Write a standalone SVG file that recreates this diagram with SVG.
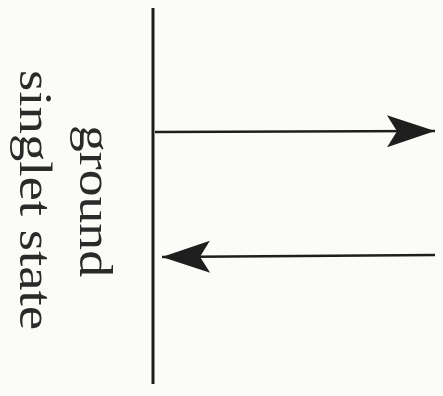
<svg xmlns="http://www.w3.org/2000/svg" width="443" height="396" viewBox="0 0 443 396">
  <style>
    .ink { stroke: #1e1e1e; fill: none; stroke-linecap: butt; }
    .lbl { font-family: "Liberation Serif", "Times New Roman", serif; font-size: 47px; fill: #2a2a2a; text-anchor: middle; }
  </style>
  <defs>
    <marker id="head" viewBox="-50 -18 52 36" markerWidth="52" markerHeight="36" refX="0" refY="0" orient="auto" markerUnits="userSpaceOnUse">
      <path d="M0,0 L-48,-16 L-38,0 L-48,16 Z" fill="#1e1e1e"/>
    </marker>
  </defs>
  <rect x="0" y="0" width="443" height="396" fill="#fbfbf8"/>
  <g id="level">
    <line class="ink" x1="153" y1="8" x2="153" y2="384" stroke-width="3"/>
  </g>
  <g id="label">
    <text class="lbl" transform="translate(80,201) rotate(90)" textLength="152" lengthAdjust="spacingAndGlyphs">ground</text>
    <text class="lbl" transform="translate(20,200) rotate(90)" textLength="260" lengthAdjust="spacingAndGlyphs">singlet state</text>
  </g>
  <g id="connectors">
    <line class="ink" x1="155" y1="132" x2="435" y2="131" stroke-width="2.5" marker-end="url(#head)"/>
    <line class="ink" x1="435" y1="255" x2="162" y2="257" stroke-width="2.5" marker-end="url(#head)"/>
  </g>
</svg>
